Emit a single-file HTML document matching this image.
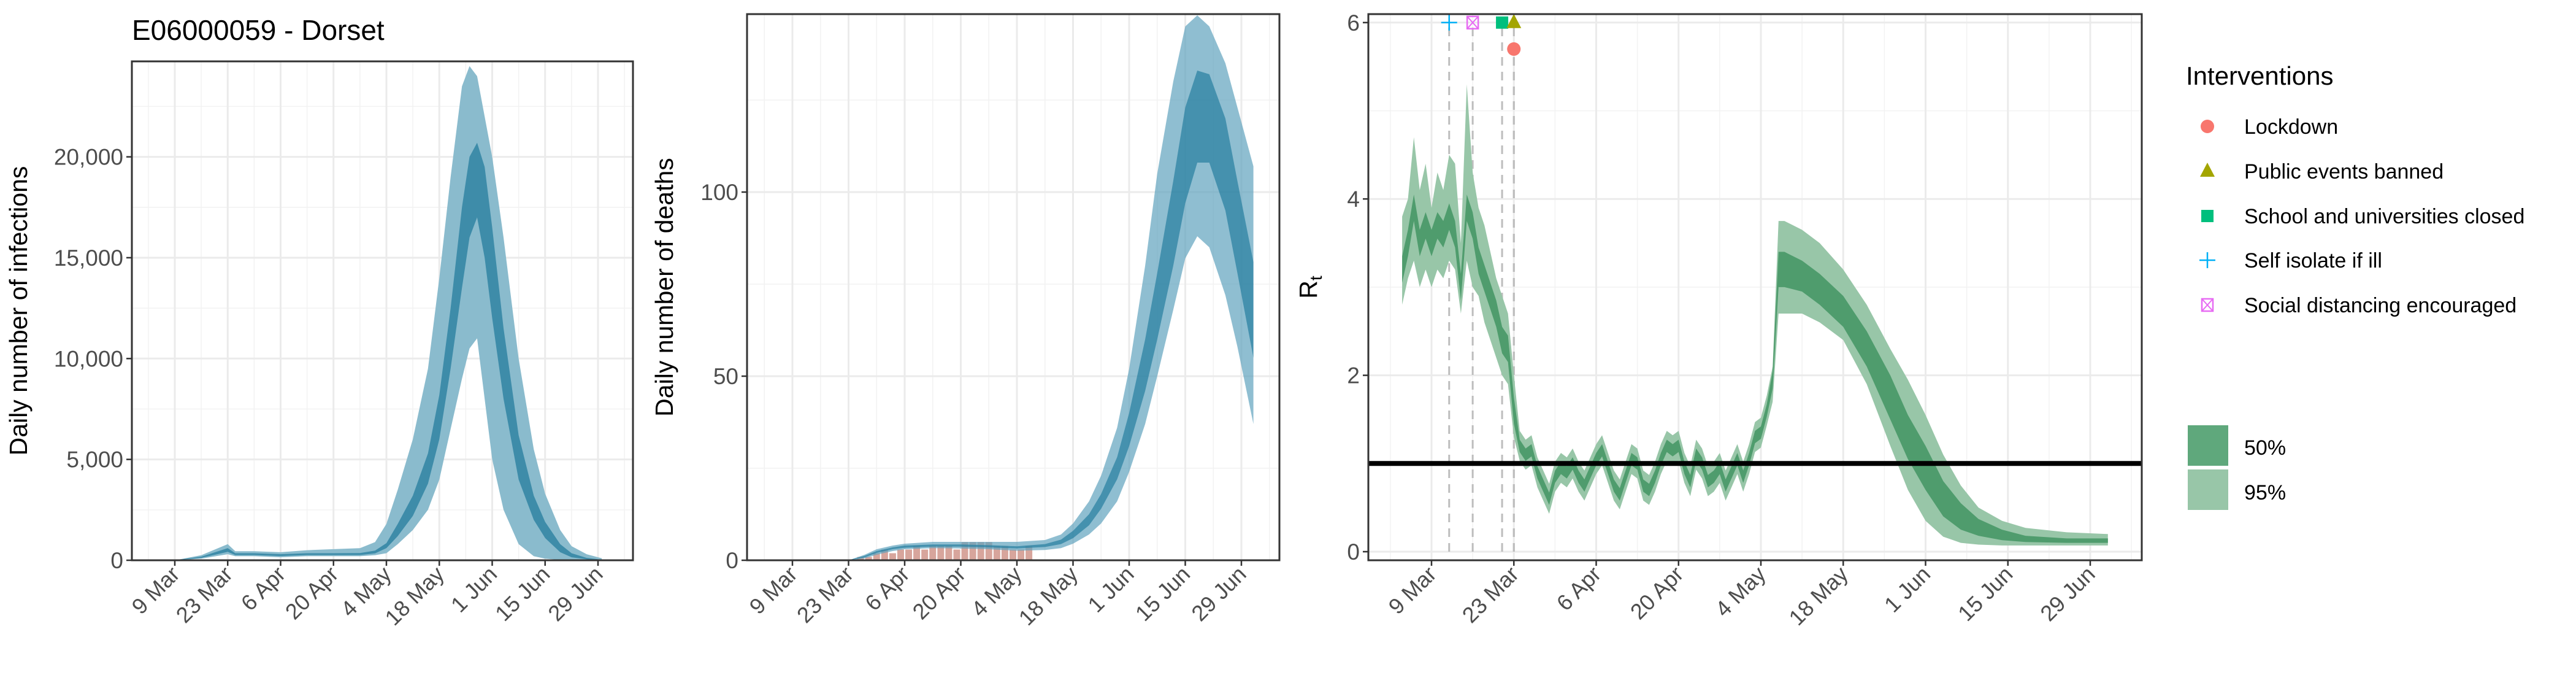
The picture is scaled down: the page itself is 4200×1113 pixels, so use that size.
<!DOCTYPE html>
<html><head><meta charset="utf-8">
<style>
html,body{margin:0;padding:0;background:#fff;}
svg{display:block;font-family:"Liberation Sans",Arial,sans-serif;}
</style></head>
<body>
<svg id="chart" width="4200" height="1113" viewBox="0 0 4200 1113" xmlns="http://www.w3.org/2000/svg">
<text x="215" y="65" font-size="46" fill="#000">E06000059 - Dorset</text>
<g id="p1"></g>
<g id="p2"></g>
<g id="p3"></g>
<g id="legend"></g>
</svg>
<script>
// ---------- data ----------
const xTickLabels = ["9 Mar","23 Mar","6 Apr","20 Apr","4 May","18 May","1 Jun","15 Jun","29 Jun"];
const xTickDays = [0,14,28,42,56,70,84,98,112];

const infDays = [0,7,14,16,21,28,35,42,49,53,56,59,63,67,70,73,76,78,80,82,84,87,91,95,98,102,105,109,113];
const infLo95 = [0,80,300,200,200,150,200,200,200,250,350,800,1500,2500,4000,6500,9000,10500,11000,8000,5000,2500,800,200,80,20,5,0,0];
const infHi95 = [0,250,800,450,450,400,500,550,600,900,1800,3500,6000,9500,14000,19000,23500,24500,24000,22000,20000,16000,10000,5500,3300,1500,700,300,100];
const infLo50 = [0,120,420,260,260,210,260,260,260,340,600,1200,2200,3800,6000,9500,13500,16000,17000,15000,12000,8000,4000,2000,1100,400,150,50,10];
const infHi50 = [0,180,600,350,350,300,350,350,360,480,850,1800,3200,5300,8200,12500,17500,20000,20700,19500,16500,11500,6200,3200,1900,800,350,120,30];
const infYTicks = [0,5000,10000,15000,20000];
const infYLabels = ["0","5,000","10,000","15,000","20,000"];

const dthDays = [14,18,21,25,28,35,42,49,56,63,67,70,74,77,81,84,88,91,95,98,101,104,108,111,115];
const dthLo95 = [0,0.5,1.5,2.5,3.0,3.3,3.2,3.0,2.6,2.8,3.3,4.5,7,10,16,24,37,50,68,82,88,85,72,58,37];
const dthHi95 = [0,1.5,3,4,4.5,5,5,5,5,5.5,7,10,16,23,36,52,80,105,130,145,148,145,135,123,107];
const dthLo50 = [0,0.8,2,3,3.4,3.7,3.7,3.5,3.2,3.6,4.4,6,9.5,14,22,31,46,60,80,97,108,108,95,78,55];
const dthHi50 = [0,1.2,2.5,3.5,4,4.3,4.3,4.1,3.8,4.4,5.6,8,12.5,18,28,40,60,78,103,123,133,132,120,103,81];
const obsDays = [17,19,21,23,25,27,29,31,33,35,37,39,41,43,45,47,49,51,53,55,57,59];
const obsDeaths = [1,1,2,3,2,3,3,4,3,4,4,4,3,5,5,5,5,4,4,3,3,4];
const dthYTicks = [0,50,100];

const rtDays = [-5,-4,-3,-2,-1,0,1,2,3,4,5,6,7,8,9,10,11,12,13,14,
 15,16,17,18,19,20,21,22,23,24,25,26,27,28,29,30,31,32,33,34,35,36,37,38,39,40,41,42,43,44,45,46,47,48,49,50,51,52,53,54,55,56,57,58,59,
 60,63,66,70,74,78,81,84,87,90,93,97,101,108,115];
const rtLo95 = [2.8,3.1,3.3,3.0,3.2,3.0,3.2,3.1,3.3,3.2,2.7,3.3,3.0,2.9,2.6,2.4,2.2,2.0,1.9,1.3,
 1.03,0.93,0.98,0.73,0.58,0.43,0.68,0.78,0.73,0.83,0.68,0.58,0.73,0.88,0.98,0.78,0.58,0.48,0.68,0.88,0.83,0.58,0.53,0.68,0.88,1.03,0.98,1.03,0.78,0.63,0.93,0.83,0.63,0.68,0.78,0.58,0.73,0.88,0.68,0.88,1.13,1.18,1.43,1.7,2.7,
 2.7,2.7,2.6,2.4,1.9,1.2,0.7,0.35,0.17,0.1,0.08,0.07,0.07,0.07,0.07];
const rtHi95 = [3.8,4.0,4.7,4.1,4.4,3.9,4.3,4.1,4.5,4.4,3.5,5.3,4.3,3.9,3.7,3.4,3.1,2.9,2.7,2.0,
 1.37,1.27,1.32,1.07,0.92,0.77,1.02,1.12,1.07,1.17,1.02,0.92,1.07,1.22,1.32,1.12,0.92,0.82,1.02,1.22,1.17,0.92,0.87,1.02,1.22,1.37,1.32,1.37,1.12,0.97,1.27,1.17,0.97,1.02,1.12,0.92,1.07,1.22,1.02,1.22,1.47,1.52,1.77,2.1,3.75,
 3.75,3.65,3.5,3.2,2.8,2.3,1.95,1.55,1.1,0.75,0.5,0.35,0.27,0.22,0.2];
const rtLo50 = [3.05,3.35,3.75,3.35,3.55,3.35,3.55,3.45,3.65,3.45,2.85,3.75,3.55,3.15,2.95,2.75,2.55,2.25,2.15,1.45,
 1.13,1.03,1.08,0.83,0.68,0.53,0.78,0.88,0.83,0.93,0.78,0.68,0.83,0.98,1.08,0.88,0.68,0.58,0.78,0.98,0.93,0.68,0.63,0.78,0.98,1.13,1.08,1.13,0.88,0.73,1.03,0.93,0.73,0.78,0.88,0.68,0.83,0.98,0.78,0.98,1.23,1.28,1.53,1.85,3.0,
 3.0,2.95,2.8,2.55,2.1,1.5,1.05,0.7,0.4,0.25,0.18,0.13,0.11,0.1,0.1];
const rtHi50 = [3.35,3.65,4.05,3.65,3.85,3.65,3.85,3.75,3.95,3.75,3.15,4.05,3.85,3.45,3.25,3.05,2.85,2.55,2.45,1.75,
 1.27,1.17,1.22,0.97,0.82,0.67,0.92,1.02,0.97,1.07,0.92,0.82,0.97,1.12,1.22,1.02,0.82,0.72,0.92,1.12,1.07,0.82,0.77,0.92,1.12,1.27,1.22,1.27,1.02,0.87,1.17,1.07,0.87,0.92,1.02,0.82,0.97,1.12,0.92,1.12,1.37,1.42,1.67,2.05,3.4,
 3.4,3.3,3.15,2.9,2.5,2.0,1.55,1.2,0.8,0.55,0.37,0.25,0.18,0.15,0.15];
const rtYTicks = [0,2,4,6];
const intvNames = ["Self isolate if ill","Social distancing encouraged","School and universities closed","Public events banned","Lockdown"];
const intvDays = [3,7,12,14,14];
const intvRt = [6,6,6,6,5.7];
const legendNames = ["Lockdown","Public events banned","School and universities closed","Self isolate if ill","Social distancing encouraged"];

// ---------- helpers ----------
const NS="http://www.w3.org/2000/svg";
function mk(parent,tag,attrs){const e=document.createElementNS(NS,tag);for(const k in attrs)e.setAttribute(k,attrs[k]);parent.appendChild(e);return e;}
function bandPath(days,lo,hi,sx,sy){let d="M";for(let i=0;i<days.length;i++)d+=sx(days[i]).toFixed(1)+","+sy(hi[i]).toFixed(1)+" L";for(let i=days.length-1;i>=0;i--)d+=sx(days[i]).toFixed(1)+","+sy(lo[i]).toFixed(1)+(i?" L":" Z");return d;}

function panel(g,P,sx,sy,yTicks,yLabels,yMinor,xMinorDays,yTitle,yTitleX){
  mk(g,"rect",{x:P.l,y:P.t,width:P.r-P.l,height:P.b-P.t,fill:"#fff"});
  const grid=mk(g,"g",{});
  
  
  yMinor.forEach(v=>mk(grid,"line",{x1:P.l,x2:P.r,y1:sy(v),y2:sy(v),stroke:"#F2F2F2","stroke-width":1.5}));
  xMinorDays.forEach(v=>mk(grid,"line",{x1:sx(v),x2:sx(v),y1:P.t,y2:P.b,stroke:"#F2F2F2","stroke-width":1.5}));
  yTicks.forEach(v=>mk(grid,"line",{x1:P.l,x2:P.r,y1:sy(v),y2:sy(v),stroke:"#EBEBEB","stroke-width":3}));
  xTickDays.forEach(v=>mk(grid,"line",{x1:sx(v),x2:sx(v),y1:P.t,y2:P.b,stroke:"#EBEBEB","stroke-width":3}));
  const ax=mk(g,"g",{});
  
  
  yTicks.forEach((v,i)=>{
    mk(ax,"line",{x1:P.l-9,x2:P.l,y1:sy(v),y2:sy(v),stroke:"#333","stroke-width":2.5});
    const t=mk(ax,"text",{x:P.l-14,y:sy(v)+13,"text-anchor":"end","font-size":37,fill:"#4D4D4D"});
    t.textContent=yLabels[i];
    
    
  });
  xTickDays.forEach((v,i)=>{
    const x=sx(v);
    mk(ax,"line",{x1:x,x2:x,y1:P.b,y2:P.b+9,stroke:"#333","stroke-width":2.5});
    const t=mk(ax,"text",{x:x+10,y:P.b+25,"text-anchor":"end","font-size":36,fill:"#4D4D4D",transform:`rotate(-45 ${x+10} ${P.b+25})`});
    t.textContent=xTickLabels[i];
    
    
  });
  const tt=mk(ax,"text",{x:yTitleX,y:(P.t+P.b)/2,"text-anchor":"middle","font-size":41,fill:"#000",transform:`rotate(-90 ${yTitleX} ${(P.t+P.b)/2})`});
  tt.innerHTML=yTitle;
  
  
}
function border(g,P){mk(g,"rect",{x:P.l,y:P.t,width:P.r-P.l,height:P.b-P.t,fill:"none",stroke:"#333","stroke-width":3});}
const minorX=[-7,7,21,35,49,63,77,91,105,119];

// ---------- panel 1: infections ----------
{
  const g=document.getElementById("p1");
  const P={l:215,r:1032,t:100,b:913};
  const sx=d=>285+d*(690/112), sy=v=>913-v*(657.4/20000);
  const cx=d=>Math.max(P.l,Math.min(P.r,sx(d)));
  panel(g,P,cx,sy,infYTicks,infYLabels,[2500,7500,12500,17500,22500],minorX.filter(d=>sx(d)>P.l&&sx(d)<P.r),"Daily number of infections",44);
  const b95=mk(g,"path",{d:bandPath(infDays,infLo95,infHi95,sx,sy),fill:"#8ABBCD"});
  
  
  const b50=mk(g,"path",{d:bandPath(infDays,infLo50,infHi50,sx,sy),fill:"#3E8CA9"});
  
  
  border(g,P);
}
// ---------- panel 2: deaths ----------
{
  const g=document.getElementById("p2");
  const P={l:1218,r:2086,t:23,b:913};
  const sx=d=>1292+d*(732/112), sy=v=>913-v*6.0;
  panel(g,P,sx,sy,dthYTicks,dthYTicks.map(String),[25,75,125],minorX.filter(d=>sx(d)>P.l&&sx(d)<P.r),"Daily number of deaths",1097);
  obsDays.forEach((d,i)=>{
    const r=mk(g,"rect",{x:sx(d)-6,y:sy(obsDeaths[i]),width:12,height:sy(0)-sy(obsDeaths[i]),fill:"#D7A59C",stroke:"#fff","stroke-width":1});
    
    
  });
  const b95=mk(g,"path",{d:bandPath(dthDays,dthLo95,dthHi95,sx,sy),fill:"#5FA3BE","fill-opacity":0.7});
  
  
  const b50=mk(g,"path",{d:bandPath(dthDays,dthLo50,dthHi50,sx,sy),fill:"#2C82A2","fill-opacity":0.75});
  
  
  border(g,P);
}
// ---------- panel 3: Rt ----------
{
  const g=document.getElementById("p3");
  const P={l:2231,r:3492,t:23,b:913};
  const sx=d=>2334+d*(1074/112), sy=v=>899-v*143.7;
  panel(g,P,sx,sy,rtYTicks,rtYTicks.map(String),[1,3,5],minorX.filter(d=>sx(d)>P.l&&sx(d)<P.r),"R<tspan font-size='28' dy='8'>t</tspan>",2147);
  intvDays.forEach((d,i)=>{
    const l=mk(g,"line",{x1:sx(d),x2:sx(d),y1:sy(0),y2:sy(intvRt[i]),stroke:"#BDBDBD","stroke-width":3,"stroke-dasharray":"14,10"});
    
    
  });
  const b95=mk(g,"path",{d:bandPath(rtDays,rtLo95,rtHi95,sx,sy),fill:"#98C6A8"});
  
  
  const b50=mk(g,"path",{d:bandPath(rtDays,rtLo50,rtHi50,sx,sy),fill:"#4F9C6D"});
  
  
  const h=mk(g,"line",{x1:P.l,x2:P.r,y1:sy(1),y2:sy(1),stroke:"#000","stroke-width":8});
  
  
  intvDays.forEach((d,i)=>{
    const m=symbol(g,intvNames[i],sx(d),sy(intvRt[i]));
    
    
  });
  border(g,P);
}
function symbol(g,name,x,y){
  const s=mk(g,"g",{});
  if(name==="Lockdown") mk(s,"circle",{cx:x,cy:y,r:11,fill:"#F8766D"});
  else if(name==="Public events banned") mk(s,"polygon",{points:`${x},${y-14} ${x-12},${y+9} ${x+12},${y+9}`,fill:"#A3A500"});
  else if(name==="School and universities closed") mk(s,"rect",{x:x-10,y:y-10,width:20,height:20,fill:"#00BF7D"});
  else if(name==="Self isolate if ill"){mk(s,"line",{x1:x-13,x2:x+13,y1:y,y2:y,stroke:"#00B0F6","stroke-width":2.5});mk(s,"line",{x1:x,x2:x,y1:y-13,y2:y+13,stroke:"#00B0F6","stroke-width":2.5});}
  else {mk(s,"rect",{x:x-9,y:y-10,width:18,height:20,fill:"none",stroke:"#E76BF3","stroke-width":2.5});mk(s,"path",{d:`M${x-9},${y-10}L${x+9},${y+10}M${x+9},${y-10}L${x-9},${y+10}`,stroke:"#E76BF3","stroke-width":2});}
  return s;
}
// ---------- legend ----------
{
  const g=document.getElementById("legend");
  const t=mk(g,"text",{x:3564,y:138,"font-size":42,fill:"#000"});
  t.textContent="Interventions";
  
  
  const ys=[206,279,352,424,497];
  legendNames.forEach((n,i)=>{
    const e=mk(g,"g",{});
    
    
    symbol(e,n,3599,ys[i]);
    const tx=mk(e,"text",{x:3659,y:ys[i]+12,"font-size":34,fill:"#000"});
    tx.textContent=n;
  });
  const k1=mk(g,"rect",{x:3567,y:693,width:66,height:66,fill:"#5FA87C"});
  
  
  const k2=mk(g,"rect",{x:3567,y:765,width:66,height:66,fill:"#98C6A8"});
  
  
  const l1=mk(g,"text",{x:3659,y:741,"font-size":34,fill:"#000"});l1.textContent="50%";
  
  
  const l2=mk(g,"text",{x:3659,y:814,"font-size":34,fill:"#000"});l2.textContent="95%";
  
  
}
</script>
</body></html>
